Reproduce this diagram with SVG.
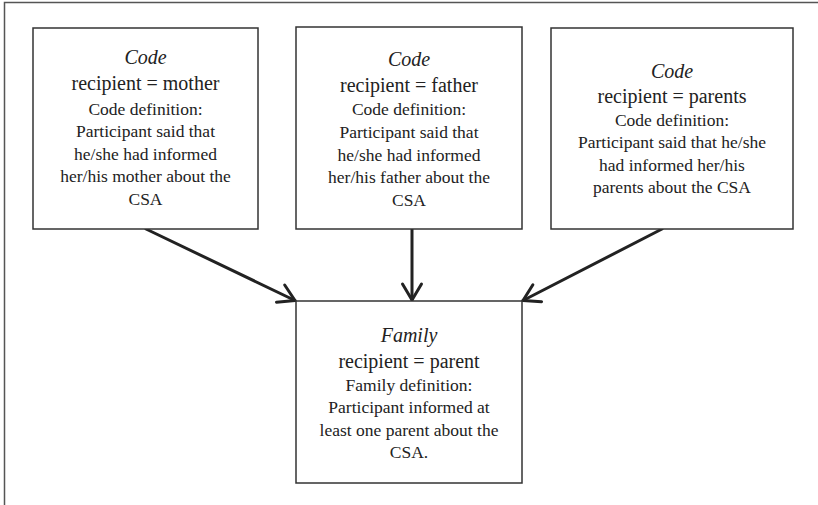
<svg xmlns="http://www.w3.org/2000/svg" width="818" height="505" viewBox="0 0 818 505">
<defs>
<style>
.box{fill:#fff;stroke:#333;stroke-width:1.5}
.lbl{font-family:'Liberation Serif','Times New Roman','DejaVu Serif',serif;fill:#222;text-anchor:middle}
.t{font-size:20px;font-style:italic}
.r{font-size:20px}
.d{font-size:17.5px}
.conn{stroke:#222;stroke-width:3;fill:none;stroke-linecap:round}
.frame{stroke:#555;stroke-width:1.5;fill:none}
</style>
<marker id="ah" markerUnits="userSpaceOnUse" markerWidth="40" markerHeight="40" viewBox="-20 -20 40 40" refX="0" refY="0" orient="auto" overflow="visible">
<path d="M -16,-9.5 L 0,0 L -16,9.5" fill="none" stroke="#222" stroke-width="3" stroke-linecap="round" stroke-linejoin="round"/>
</marker>
</defs>
<rect width="818" height="505" fill="#fff"/>
<path class="frame" d="M4.5,505 L4.5,2.5 L818,2.5"/>
<g id="connectors">
<line class="conn" x1="146" y1="229" x2="295" y2="300.5" marker-end="url(#ah)"/>
<line class="conn" x1="412" y1="229" x2="412" y2="300" marker-end="url(#ah)"/>
<line class="conn" x1="662" y1="229" x2="523" y2="300.5" marker-end="url(#ah)"/>
</g>
<g id="code-mother" class="lbl" font-family="Liberation Serif, Times New Roman, DejaVu Serif, serif">
<rect class="box" x="33" y="28" width="225" height="201"/>
<text class="t" x="145.5" y="64">Code</text>
<text class="r" x="145.5" y="90">recipient = mother</text>
<text class="d" x="145.5" y="115">Code definition:</text>
<text class="d" x="145.5" y="137">Participant said that</text>
<text class="d" x="145.5" y="159.5">he/she had informed</text>
<text class="d" x="145.5" y="182">her/his mother about the</text>
<text class="d" x="145.5" y="204.5">CSA</text>
</g>
<g id="code-father" class="lbl" font-family="Liberation Serif, Times New Roman, DejaVu Serif, serif">
<rect class="box" x="296" y="27" width="226" height="202"/>
<text class="t" x="409" y="66">Code</text>
<text class="r" x="409" y="92">recipient = father</text>
<text class="d" x="409" y="115">Code definition:</text>
<text class="d" x="409" y="138">Participant said that</text>
<text class="d" x="409" y="160.5">he/she had informed</text>
<text class="d" x="409" y="183">her/his father about the</text>
<text class="d" x="409" y="205.5">CSA</text>
</g>
<g id="code-parents" class="lbl" font-family="Liberation Serif, Times New Roman, DejaVu Serif, serif">
<rect class="box" x="551" y="28" width="242" height="201"/>
<text class="t" x="672" y="78">Code</text>
<text class="r" x="672" y="103">recipient = parents</text>
<text class="d" x="672" y="125.5">Code definition:</text>
<text class="d" x="672" y="148">Participant said that he/she</text>
<text class="d" x="672" y="170.5">had informed her/his</text>
<text class="d" x="672" y="193">parents about the CSA</text>
</g>
<g id="family-parent" class="lbl" font-family="Liberation Serif, Times New Roman, DejaVu Serif, serif">
<rect class="box" x="296" y="301" width="226" height="182"/>
<text class="t" x="409" y="342">Family</text>
<text class="r" x="409" y="368">recipient = parent</text>
<text class="d" x="409" y="390.5">Family definition:</text>
<text class="d" x="409" y="413">Participant informed at</text>
<text class="d" x="409" y="435.5">least one parent about the</text>
<text class="d" x="409" y="458">CSA.</text>
</g>
</svg>
